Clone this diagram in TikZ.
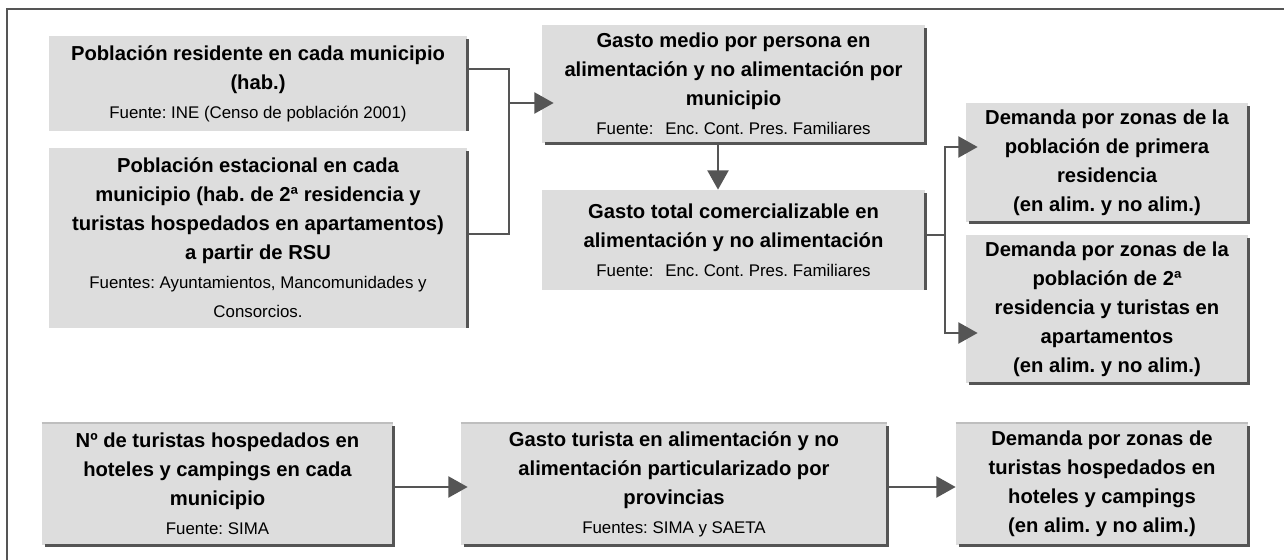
\documentclass[tikz,border=0pt]{standalone}
\usepackage{fontspec}
\setmainfont{Liberation Sans}
\usetikzlibrary{arrows.meta,calc,positioning}
\definecolor{boxgray}{RGB}{221,221,221}
\definecolor{linegray}{RGB}{85,85,85}
\definecolor{topgray}{RGB}{190,190,190}
\frenchspacing

\newcommand{\fuente}[1]{{\fontsize{9.6}{15}\selectfont\mdseries #1}}

\begin{document}
\begin{tikzpicture}[
    box/.style={fill=boxgray, align=center, inner sep=1pt, font=\fontsize{11.5}{16.5}\selectfont\bfseries},
    link/.style={draw=linegray, line width=1.2pt},
    linkarrow/.style={link, -{Triangle[length=11pt,width=12pt]}},
    shadowline/.style={draw=linegray, line width=1.6pt},
    topline/.style={draw=topgray, line width=1.3pt}
]
    \useasboundingbox (0,0) rectangle (25.68,11.2);

    % Frame
    \draw[link] (0.14,0) -- (0.14,11.02) -- (25.68,11.02);

    % Population
    \node[box, minimum width=8.36cm, minimum height=1.90cm] (res) at (5.16,9.53)
        {Población residente en cada municipio\\(hab.)\\\fuente{Fuente: INE (Censo de población 2001)}};
    \node[box, minimum width=8.36cm, minimum height=3.60cm] (est) at (5.16,6.44)
        {Población estacional en cada\\municipio (hab. de 2ª residencia y\\turistas hospedados en apartamentos)\\a partir de RSU\\\fuente{Fuentes: Ayuntamientos, Mancomunidades y}\\\fuente{Consorcios.}};

    % Spending
    \node[box, minimum width=7.66cm, minimum height=2.36cm] (gmed) at (14.67,9.52)
        {Gasto medio por persona en\\alimentación y no alimentación por\\municipio\\\fuente{Fuente:\hspace{0.7em}Enc. Cont. Pres. Familiares}};
    \node[box, minimum width=7.66cm, minimum height=2.00cm] (gtot) at (14.67,6.40)
        {Gasto total comercializable en\\alimentación y no alimentación\\\fuente{Fuente:\hspace{0.7em}Enc. Cont. Pres. Familiares}};

    % Demand
    \node[box, minimum width=5.64cm, minimum height=2.38cm] (dprim) at (22.14,7.95)
        {Demanda por zonas de la\\población de primera\\residencia\\(en alim. y no alim.)};
    \node[box, minimum width=5.64cm, minimum height=2.96cm] (dseg) at (22.14,5.02)
        {Demanda por zonas de la\\población de 2ª\\residencia y turistas en\\apartamentos\\(en alim. y no alim.)};

    % Tourists in hotels
    \node[box, minimum width=7.02cm, minimum height=2.44cm] (ntur) at (4.35,1.52)
        {Nº de turistas hospedados en\\hoteles y campings en cada\\municipio\\\fuente{Fuente: SIMA}};
    \node[box, minimum width=8.52cm, minimum height=2.44cm] (gtur) at (13.48,1.52)
        {Gasto turista en alimentación y no\\alimentación particularizado por\\provincias\\\fuente{Fuentes: SIMA y SAETA}};
    \node[box, minimum width=5.84cm, minimum height=2.44cm] (dtur) at (22.04,1.52)
        {Demanda por zonas de\\turistas hospedados en\\hoteles y campings\\(en alim. y no alim.)};

    % Shadows
    \foreach \n in {res,est,gtot}
        \draw[shadowline] ([yshift=-2pt]\n.north east) -- (\n.south east);
    \foreach \n in {gmed,dprim,dseg,ntur,gtur,dtur}
        \draw[shadowline] ([yshift=-2pt]\n.north east) -- (\n.south east) -- ([xshift=2pt]\n.south west);
    \foreach \n in {ntur,gtur,dtur}
        \draw[topline] (\n.north west) -- (\n.north east);

    % Connectors
    \coordinate (jl) at (10.18,9.14);
    \draw[link] ([yshift=0.29cm]res.east) -| (jl) |- ([yshift=0.08cm]est.east);
    \draw[linkarrow, shorten >=-0.24cm] (jl) -- (jl -| gmed.west);
    \draw[linkarrow] ([xshift=-0.31cm]gmed.south) -- ([xshift=-0.31cm]gtot.north);

    \coordinate (jr) at (18.9,6.5);
    \draw[link] (gtot.east |- jr) -- (jr);
    \draw[linkarrow, shorten >=-0.24cm] (jr) |- ([yshift=0.31cm]dprim.west);
    \draw[linkarrow, shorten >=-0.24cm] (jr) |- ([yshift=-0.48cm]dseg.west);

    \draw[linkarrow, shorten >=-0.14cm] ([yshift=-0.06cm]ntur.east) -- ([yshift=-0.06cm]gtur.west);
    \draw[linkarrow] ([yshift=-0.06cm]gtur.east) -- ([yshift=-0.06cm]dtur.west);
\end{tikzpicture}
\end{document}
